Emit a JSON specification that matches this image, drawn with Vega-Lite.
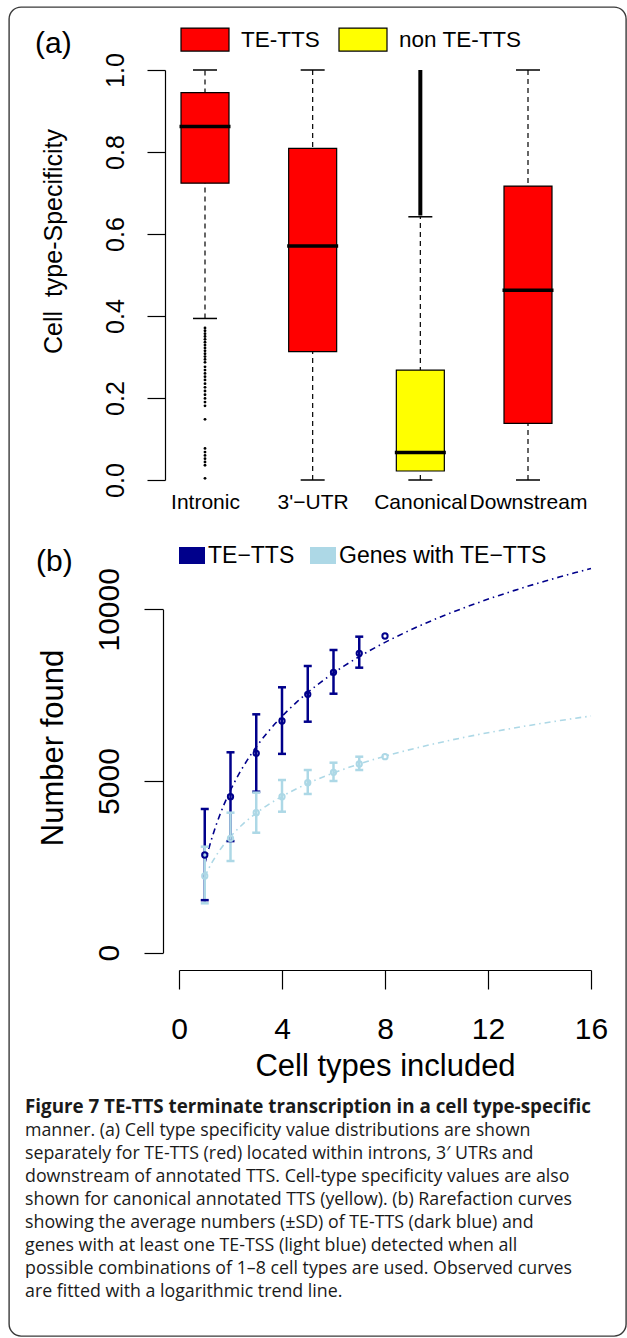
{
  "$schema": "https://vega.github.io/schema/vega-lite/v6.json",
  "width": 617,
  "height": 1329,
  "padding": {"left": 9, "top": 7, "right": 1, "bottom": 2},
  "autosize": {"type": "none"},
  "config": {
    "font": "Liberation Sans",
    "view": {"stroke": "#3a3a3a", "strokeWidth": 1.4, "cornerRadius": 12},
    "axis": {"grid": false, "domainColor": "black", "tickColor": "black", "labelColor": "black", "titleColor": "black", "titleFontWeight": "normal", "labelFlush": false, "labelOverlap": false, "labelBound": false, "domainWidth": 1.2, "tickWidth": 1.2, "labelLimit": 400, "titleLimit": 1000},
    "legend": {"labelColor": "black", "titleColor": "black", "padding": 0}
  },
  "title": {
    "text": "Figure 7 TE-TTS terminate transcription in a cell type-specific",
    "subtitle": [
      "manner. (a) Cell type specificity value distributions are shown",
      "separately for TE-TTS (red) located within introns, 3′ UTRs and",
      "downstream of annotated TTS. Cell-type specificity values are also",
      "shown for canonical annotated TTS (yellow). (b) Rarefaction curves",
      "showing the average numbers (±SD) of TE-TTS (dark blue) and",
      "genes with at least one TE-TSS (light blue) detected when all",
      "possible combinations of 1–8 cell types are used. Observed curves",
      "are fitted with a logarithmic trend line."
    ],
    "orient": "top",
    "anchor": "start",
    "frame": "group",
    "offset": -1294,
    "dx": 16,
    "font": "Open Sans",
    "fontSize": 18.8,
    "fontWeight": "bold",
    "color": "#1a1a1a",
    "subtitleFont": "Open Sans",
    "subtitleFontSize": 17.8,
    "subtitleColor": "#1a1a1a",
    "subtitleLineHeight": 23,
    "subtitlePadding": 5
  },
  "resolve": {"scale": {"x": "independent", "y": "independent"}, "axis": {"x": "independent", "y": "independent"}},
  "layer": [
    {
      "data": {"values": [
        {"cat": "Intronic", "type": "TE-TTS", "lo": 0.394, "q1": 0.724, "med": 0.862, "q3": 0.945, "hi": 1.0},
        {"cat": "3'−UTR", "type": "TE-TTS", "lo": 0.0, "q1": 0.313, "med": 0.571, "q3": 0.809, "hi": 1.0},
        {"cat": "Canonical", "type": "non TE-TTS", "lo": 0.0, "q1": 0.022, "med": 0.067, "q3": 0.268, "hi": 0.642},
        {"cat": "Downstream", "type": "TE-TTS", "lo": 0.0, "q1": 0.138, "med": 0.463, "q3": 0.717, "hi": 1.0}
      ]},
      "layer": [
        {
          "mark": {"type": "rule", "strokeDash": [5, 4], "strokeWidth": 1.2, "color": "black"},
          "encoding": {
            "x": {"field": "cat", "type": "nominal", "sort": null,
              "scale": {"type": "point", "domain": ["Intronic", "3'−UTR", "Canonical", "Downstream"], "range": [196, 519], "padding": 0},
              "axis": {"orient": "bottom", "offset": -856, "domain": false, "ticks": false, "tickSize": 0, "labelFontSize": 21, "labelPadding": 28, "labelBaseline": "alphabetic", "labelAngle": 0, "title": null}},
            "y": {"field": "lo", "type": "quantitative",
              "scale": {"domain": [0, 1], "range": [473, 63], "zero": false, "nice": false},
              "axis": {"orient": "left", "offset": -156, "values": [0, 0.2, 0.4, 0.6, 0.8, 1.0], "format": ".1f", "tickSize": 18, "labelFontSize": 25, "labelAngle": -90, "labelAlign": "center", "labelBaseline": "alphabetic", "labelPadding": 24,
                "title": "Cell\u00a0\u00a0type-Specificity", "titleFontSize": 25, "titleAngle": -90, "titleAlign": "center", "titleBaseline": "alphabetic", "titleX": -104, "titleY": 234}},
            "y2": {"field": "hi"}
          }
        },
        {
          "mark": {"type": "tick", "orient": "horizontal", "size": 24, "thickness": 1.5, "color": "black", "opacity": 1},
          "encoding": {"x": {"field": "cat", "type": "nominal"}, "y": {"field": "lo", "type": "quantitative"}}
        },
        {
          "mark": {"type": "tick", "orient": "horizontal", "size": 24, "thickness": 1.5, "color": "black", "opacity": 1},
          "encoding": {"x": {"field": "cat", "type": "nominal"}, "y": {"field": "hi", "type": "quantitative"}}
        },
        {
          "mark": {"type": "bar", "width": 48, "stroke": "black", "strokeWidth": 1.2, "opacity": 1},
          "encoding": {
            "x": {"field": "cat", "type": "nominal"},
            "y": {"field": "q1", "type": "quantitative"},
            "y2": {"field": "q3"},
            "fill": {"field": "type", "type": "nominal",
              "scale": {"domain": ["TE-TTS", "non TE-TTS"], "range": ["#FF0000", "#FFFF00"]},
              "legend": {"orient": "none", "legendX": 26, "legendY": 7.5, "direction": "horizontal",
                "title": "(a)", "titleOrient": "left", "titleFontSize": 30, "titleFontWeight": "normal", "titlePadding": 108, "titleAnchor": "start", "titleBaseline": "line-top", "titleLineHeight": 58,
                "symbolType": "M-1,-0.479H1V0.479H-1Z", "symbolSize": 2304, "symbolStrokeColor": "black", "symbolStrokeWidth": 1.2,
                "labelFontSize": 22.5, "labelOffset": 11, "columnPadding": 16, "labelLimit": 400,
                "encode": {"title": {"update": {"angle": {"value": 0}}}}}}
          }
        },
        {
          "mark": {"type": "tick", "orient": "horizontal", "size": 51, "thickness": 3.5, "color": "black", "opacity": 1},
          "encoding": {"x": {"field": "cat", "type": "nominal"}, "y": {"field": "med", "type": "quantitative"}}
        },
        {
          "data": {"values": [
            {"cat": "Intronic", "v": 0.371}, {"cat": "Intronic", "v": 0.364}, {"cat": "Intronic", "v": 0.357}, {"cat": "Intronic", "v": 0.350},
            {"cat": "Intronic", "v": 0.343}, {"cat": "Intronic", "v": 0.336}, {"cat": "Intronic", "v": 0.329}, {"cat": "Intronic", "v": 0.322},
            {"cat": "Intronic", "v": 0.315}, {"cat": "Intronic", "v": 0.308}, {"cat": "Intronic", "v": 0.301}, {"cat": "Intronic", "v": 0.294},
            {"cat": "Intronic", "v": 0.287}, {"cat": "Intronic", "v": 0.276}, {"cat": "Intronic", "v": 0.268}, {"cat": "Intronic", "v": 0.260},
            {"cat": "Intronic", "v": 0.252}, {"cat": "Intronic", "v": 0.244}, {"cat": "Intronic", "v": 0.235}, {"cat": "Intronic", "v": 0.226},
            {"cat": "Intronic", "v": 0.217}, {"cat": "Intronic", "v": 0.208}, {"cat": "Intronic", "v": 0.199}, {"cat": "Intronic", "v": 0.190},
            {"cat": "Intronic", "v": 0.181}, {"cat": "Intronic", "v": 0.148}, {"cat": "Intronic", "v": 0.077}, {"cat": "Intronic", "v": 0.068},
            {"cat": "Intronic", "v": 0.060}, {"cat": "Intronic", "v": 0.052}, {"cat": "Intronic", "v": 0.044}, {"cat": "Intronic", "v": 0.036},
            {"cat": "Intronic", "v": 0.004}
          ]},
          "mark": {"type": "circle", "size": 8, "color": "black", "opacity": 1},
          "encoding": {"x": {"field": "cat", "type": "nominal"}, "y": {"field": "v", "type": "quantitative"}}
        },
        {
          "data": {"values": [{"cat": "Canonical", "from": 0.645, "to": 1.0}]},
          "mark": {"type": "rule", "strokeWidth": 4, "color": "black"},
          "encoding": {"x": {"field": "cat", "type": "nominal"}, "y": {"field": "from", "type": "quantitative"}, "y2": {"field": "to"}}
        }
      ]
    },
    {
      "data": {"values": [
        {"series": "TE−TTS", "k": 1, "n": 2845, "lo": 1530, "hi": 4185},
        {"series": "TE−TTS", "k": 2, "n": 4543, "lo": 3250, "hi": 5836},
        {"series": "TE−TTS", "k": 3, "n": 5806, "lo": 4689, "hi": 6942},
        {"series": "TE−TTS", "k": 4, "n": 6747, "lo": 5790, "hi": 7729},
        {"series": "TE−TTS", "k": 5, "n": 7525, "lo": 6727, "hi": 8349},
        {"series": "TE−TTS", "k": 6, "n": 8165, "lo": 7542, "hi": 8815},
        {"series": "TE−TTS", "k": 7, "n": 8719, "lo": 8300, "hi": 9203},
        {"series": "TE−TTS", "k": 8, "n": 9222, "lo": null, "hi": null},
        {"series": "Genes with TE−TTS", "k": 1, "n": 2234, "lo": 1438, "hi": 3087},
        {"series": "Genes with TE−TTS", "k": 2, "n": 3331, "lo": 2670, "hi": 4077},
        {"series": "Genes with TE−TTS", "k": 3, "n": 4077, "lo": 3494, "hi": 4660},
        {"series": "Genes with TE−TTS", "k": 4, "n": 4543, "lo": 4106, "hi": 5029},
        {"series": "Genes with TE−TTS", "k": 5, "n": 4951, "lo": 4622, "hi": 5320},
        {"series": "Genes with TE−TTS", "k": 6, "n": 5253, "lo": 5000, "hi": 5533},
        {"series": "Genes with TE−TTS", "k": 7, "n": 5495, "lo": 5320, "hi": 5708},
        {"series": "Genes with TE−TTS", "k": 8, "n": 5708, "lo": null, "hi": null}
      ]},
      "layer": [
        {
          "transform": [{"regression": "n", "on": "k", "groupby": ["series"], "method": "log", "extent": [1, 16]}],
          "mark": {"type": "line", "strokeDash": [6, 4, 1.5, 4], "strokeWidth": 1.6},
          "encoding": {
            "x": {"field": "k", "type": "quantitative",
              "scale": {"domain": [0, 16], "range": [170, 582], "nice": false, "zero": false},
              "axis": {"orient": "bottom", "offset": -366, "values": [0, 4, 8, 12, 16], "tickSize": 19, "labelFontSize": 30, "labelBaseline": "alphabetic", "labelPadding": 49, "labelAngle": 0,
                "title": "Cell types included", "titleFontSize": 31, "titleBaseline": "alphabetic", "titleY": 105}},
            "y": {"field": "n", "type": "quantitative",
              "scale": {"domain": [0, 10000], "range": [945.7, 602.3], "nice": false, "zero": false},
              "axis": {"orient": "left", "offset": -154, "values": [0, 5000, 10000], "format": "d", "tickSize": 19, "labelFontSize": 30, "labelAngle": -90, "labelAlign": "center", "labelBaseline": "alphabetic", "labelPadding": 26,
                "title": "Number found", "titleFontSize": 31, "titleAngle": -90, "titleAlign": "center", "titleBaseline": "alphabetic", "titleX": -101, "titleY": 740.5}},
            "color": {"field": "series", "type": "nominal",
              "scale": {"domain": ["TE−TTS", "Genes with TE−TTS"], "range": ["#00008B", "#ADD8E6"]},
              "legend": {"orient": "none", "legendX": 27, "legendY": 535.5, "direction": "horizontal",
                "title": "(b)", "titleOrient": "left", "titleFontSize": 30, "titleFontWeight": "normal", "titlePadding": 106, "titleAnchor": "start", "titleBaseline": "line-top", "titleLineHeight": 38,
                "symbolType": "M-1,-0.654H1V0.654H-1Z", "symbolSize": 676, "symbolStrokeWidth": 0,
                "labelFontSize": 23, "labelOffset": 3, "columnPadding": 15, "labelLimit": 400,
                "encode": {
                  "title": {"update": {"angle": {"value": 0}}},
                  "symbols": {"update": {"fill": [{"test": "datum.value === 'TE−TTS'", "value": "#00008B"}, {"value": "#ADD8E6"}], "strokeWidth": {"value": 0}, "opacity": {"value": 1}}}
                }}
            }
          }
        },
        {
          "mark": {"type": "rule", "strokeWidth": 2.5},
          "encoding": {"x": {"field": "k", "type": "quantitative"}, "y": {"field": "lo", "type": "quantitative"}, "y2": {"field": "hi"}, "color": {"field": "series", "type": "nominal"}}
        },
        {
          "mark": {"type": "tick", "orient": "horizontal", "size": 8, "thickness": 2.5, "opacity": 1},
          "encoding": {"x": {"field": "k", "type": "quantitative"}, "y": {"field": "lo", "type": "quantitative"}, "color": {"field": "series", "type": "nominal"}}
        },
        {
          "mark": {"type": "tick", "orient": "horizontal", "size": 8, "thickness": 2.5, "opacity": 1},
          "encoding": {"x": {"field": "k", "type": "quantitative"}, "y": {"field": "hi", "type": "quantitative"}, "color": {"field": "series", "type": "nominal"}}
        },
        {
          "mark": {"type": "point", "filled": false, "size": 28, "strokeWidth": 2, "opacity": 1},
          "encoding": {"x": {"field": "k", "type": "quantitative"}, "y": {"field": "n", "type": "quantitative"}, "color": {"field": "series", "type": "nominal"}}
        }
      ]
    }
  ]
}
